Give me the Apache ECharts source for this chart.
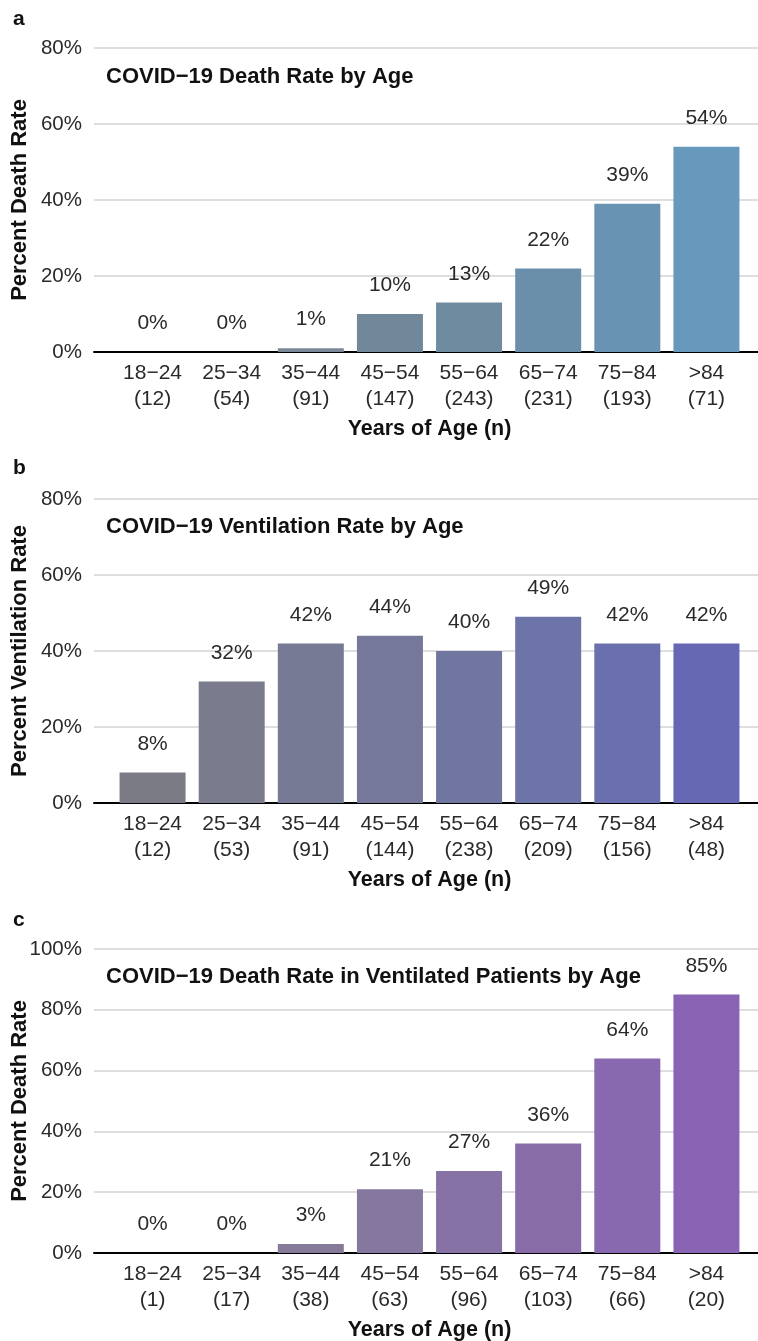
<!DOCTYPE html>
<html>
<head>
<meta charset="utf-8">
<script src="https://cdn.jsdelivr.net/npm/echarts@6/dist/echarts.min.js"></script>
<style>
  html, body { margin: 0; padding: 0; background: #fff; }
  #chart { width: 758px; height: 1341px; }
</style>
</head>
<body>
<div id="chart"></div>
<script>
// data
var ageGroups = ['18−24', '25−34', '35−44', '45−54', '55−64', '65−74', '75−84', '>84'];
var nDeath = [12, 54, 91, 147, 243, 231, 193, 71];
var nVent = [12, 53, 91, 144, 238, 209, 156, 48];
var nVentDeath = [1, 17, 38, 63, 96, 103, 66, 20];
var deathRate = [0, 0, 1, 10, 13, 22, 39, 54];
var ventRate = [8, 32, 42, 44, 40, 49, 42, 42];
var ventDeathRate = [0, 0, 3, 21, 27, 36, 64, 85];
var colorsA = ['#7d8a98', '#7c8a98', '#7b8898', '#71879a', '#6e8ba0', '#6a8faa', '#6893b2', '#6699bb'];
var colorsB = ['#7b7b85', '#7a7b8c', '#777a94', '#75789a', '#7076a0', '#6d74a8', '#6a70ae', '#6668b4'];
var colorsC = ['#857c96', '#857b97', '#857a98', '#86779e', '#8672a4', '#876ca8', '#8868ae', '#8964b4'];

var FONT = '"Liberation Sans", Arial, sans-serif';
var mychart = echarts.init(document.getElementById('chart'));

// panel layout: top of plot, value max, titles
var panels = [
    {top: 48, max: 80, rate: deathRate, n: nDeath, colors: colorsA, letter: 'a', letterY: 19,
     title: 'COVID−19 Death Rate by Age', titleY: 77, yName: 'Percent Death Rate'},
    {top: 499, max: 80, rate: ventRate, n: nVent, colors: colorsB, letter: 'b', letterY: 468,
     title: 'COVID−19 Ventilation Rate by Age', titleY: 527, yName: 'Percent Ventilation Rate'},
    {top: 949, max: 100, rate: ventDeathRate, n: nVentDeath, colors: colorsC, letter: 'c', letterY: 920,
     title: 'COVID−19 Death Rate in Ventilated Patients by Age', titleY: 977, yName: 'Percent Death Rate'}
];
var plotH = 304;

var grid = [], xAxis = [], yAxis = [], series = [], graphic = [];

panels.forEach(function (p, i) {
    // background grid: gridlines, y labels and the black baseline
    grid.push({left: 94, right: 0, top: p.top, height: plotH, containLabel: false, outerBoundsMode: 'none'});
    xAxis.push({
        type: 'value', gridIndex: 2 * i, min: 0, max: 1,
        axisLabel: {show: false}, axisTick: {show: false}, splitLine: {show: false},
        axisLine: {show: true, lineStyle: {color: '#000', width: 2}}
    });
    yAxis.push({
        type: 'value', gridIndex: 2 * i, min: 0, max: p.max, interval: 20,
        axisLine: {show: false}, axisTick: {show: false},
        axisLabel: {formatter: '{value}%', fontSize: 20.5, color: '#2a2a2a', fontFamily: FONT, margin: 12},
        splitLine: {lineStyle: {color: '#d3d3d3', width: 1.5}},
        name: p.yName, nameLocation: 'middle', nameGap: 63, nameMoveOverlap: false,
        nameTextStyle: {fontSize: 22, fontWeight: 'bold', color: '#111', fontFamily: FONT}
    });

    // bar grid
    grid.push({left: 113, right: 12, top: p.top, height: plotH, containLabel: false, outerBoundsMode: 'none'});
    xAxis.push({
        type: 'category', gridIndex: 2 * i + 1,
        data: ageGroups.map(function (g, k) { return g + '\n(' + p.n[k] + ')'; }),
        axisLine: {show: false}, axisTick: {show: false},
        axisLabel: {fontSize: 21, color: '#2a2a2a', fontFamily: FONT, margin: 8, lineHeight: 26, interval: 0},
        name: 'Years of Age (n)', nameLocation: 'middle', nameGap: 66, nameMoveOverlap: false,
        nameTextStyle: {fontSize: 21.5, fontWeight: 'bold', color: '#111', fontFamily: FONT}
    });
    yAxis.push({type: 'value', gridIndex: 2 * i + 1, min: 0, max: p.max, show: false});

    series.push({
        type: 'bar', xAxisIndex: 2 * i + 1, yAxisIndex: 2 * i + 1,
        barWidth: 66,
        data: p.rate.map(function (v, k) { return {value: v, itemStyle: {color: p.colors[k]}}; }),
        label: {show: true, position: 'top', distance: 18, formatter: '{c}%',
                fontSize: 21, color: '#2a2a2a', fontFamily: FONT}
    });

    graphic.push({type: 'text', x: 13, y: p.letterY,
        style: {text: p.letter, font: 'bold 21px ' + FONT, fill: '#111', verticalAlign: 'middle'}});
    graphic.push({type: 'text', x: 106, y: p.titleY,
        style: {text: p.title, font: 'bold 22px ' + FONT, fill: '#111', verticalAlign: 'middle'}});
});

option = {
    animation: false,
    grid: grid,
    xAxis: xAxis,
    yAxis: yAxis,
    series: series,
    graphic: graphic
};
mychart.setOption(option);
</script>
</body>
</html>
